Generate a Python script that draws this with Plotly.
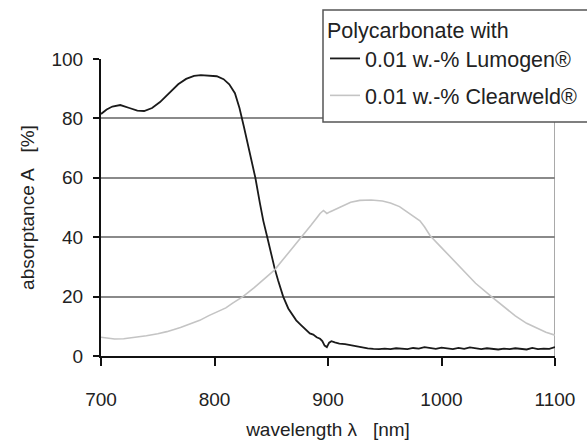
import plotly.graph_objects as go

# Data
lumogen_wl = [700, 705, 710, 717, 725, 732, 738, 745, 752, 760, 768, 775, 782, 788, 795, 802, 808, 813,
              818, 822, 826, 830, 833, 836, 840, 843, 846.5, 850, 853, 856, 860.5, 865, 869, 872, 876,
              880, 884, 887, 890, 893, 895, 897, 899, 901, 903, 906, 910, 915, 920, 925, 930, 935, 940,
              945, 950, 955, 960, 965, 970, 975, 980, 985, 990, 995, 1000, 1005, 1010, 1015, 1020, 1025,
              1030, 1035, 1040, 1045, 1050, 1055, 1060, 1065, 1070, 1075, 1080, 1085, 1090, 1095, 1100]
lumogen_a = [81.5, 83.0, 84.0, 84.5, 83.5, 82.6, 82.5, 83.5, 85.5, 88.5, 91.5, 93.3, 94.3, 94.6, 94.5, 94.2, 93.2, 91.5,
             88.5, 83.5, 77.0, 70.0, 65.5, 60.0, 51.5, 45.5, 40.0, 34.0, 29.5, 25.5, 20.0, 16.0, 13.5, 12.0, 10.5,
             9.0, 7.6, 7.2, 6.3, 5.8, 5.0, 3.5, 3.0, 4.5, 5.0, 4.6, 4.2, 4.0, 3.6, 3.3, 3.0, 2.6, 2.4,
             2.3, 2.5, 2.3, 2.6, 2.4, 2.3, 2.7, 2.5, 3.0, 2.6, 2.4, 2.8, 2.5, 2.3, 2.7, 2.4, 2.9,
             2.5, 2.3, 2.6, 2.4, 2.2, 2.5, 2.3, 2.6, 2.4, 2.2, 2.7, 2.3, 2.5, 2.4, 3.0]

clearweld_wl = [700, 705, 712, 720, 730, 740, 750, 758, 770, 780, 787, 795, 800, 810, 816, 825, 835, 845, 853,
                860, 868, 877, 885, 890, 893, 896, 899, 902, 907, 913, 920, 928, 938, 948, 955, 963, 970,
                975, 981, 985, 990, 1000, 1010, 1020, 1030, 1044, 1055, 1065, 1075, 1085, 1092, 1100]
clearweld_a = [6.3, 6.0, 5.7, 5.8, 6.2, 6.8, 7.5, 8.2, 9.6, 11.0, 12.0, 13.6, 14.4, 16.2, 17.8, 20.0, 23.0, 26.5, 29.0,
               32.3, 36.0, 40.0, 44.0, 46.5, 48.0, 49.0, 48.0, 48.6, 49.5, 50.8, 51.8, 52.4, 52.5, 52.2, 51.5, 50.3, 48.5,
               47.0, 45.5, 43.5, 40.5, 36.5, 32.5, 28.5, 24.5, 20.0, 16.5, 13.5, 11.0, 9.2, 8.0, 7.0]

x_ticks = [700, 800, 900, 1000, 1100]
y_ticks = [0, 20, 40, 60, 80, 100]

FONT = "Liberation Sans, Arial, sans-serif"
FS = 19
LFS = 21.5
TXT = "#222222"
NB = "\u00a0"

# plot-area geometry in pixels (used to place the legend frame)
L, R, T, B = 101, 555, 59, 356
W, H = 587, 445


def px_x(p):
    return (p - L) / (R - L)


def px_y(p):
    return (B - p) / (B - T)


fig = go.Figure()
fig.add_trace(go.Scatter(x=lumogen_wl, y=lumogen_a, mode="lines",
                         name="0.01 w.-% Lumogen®", legendgroup="a",
                         line=dict(color="#1a1a1a", width=1.8)))
fig.add_trace(go.Scatter(x=clearweld_wl, y=clearweld_a, mode="lines",
                         name="0.01 w.-% Clearweld®", legendgroup="b",
                         line=dict(color="#c4c4c4", width=1.6)))

# right-hand frame line
fig.add_shape(type="line", xref="x", yref="y", x0=1100, x1=1100, y0=0, y1=100,
              line=dict(color="#707070", width=1.2), layer="below")

# legend frame (runs past the right edge of the picture, as in the reference)
fig.add_shape(type="rect", xref="paper", yref="paper",
              x0=px_x(323), x1=px_x(W + 20), y0=px_y(122), y1=px_y(10),
              fillcolor="white", line=dict(color="#555555", width=1.5), layer="above")

fig.update_layout(
    width=W, height=H,
    margin=dict(l=L, r=W - R, t=T, b=H - B, autoexpand=False),
    paper_bgcolor="white", plot_bgcolor="white",
    font=dict(family=FONT, size=FS, color=TXT),
    showlegend=True,
    legend=dict(
        x=px_x(325), y=px_y(10), xanchor="left", yanchor="top",
        bgcolor="rgba(0,0,0,0)", borderwidth=0,
        font=dict(family=FONT, size=LFS, color=TXT),
        title=dict(text="Polycarbonate with", font=dict(family=FONT, size=LFS, color=TXT)),
        traceorder="grouped", tracegroupgap=6,
    ),
    xaxis=dict(
        range=[700, 1100], tickvals=x_ticks, ticktext=[str(v) for v in x_ticks],
        showgrid=False, zeroline=False,
        showline=True, linecolor="#111111", linewidth=2,
        ticks="outside", ticklen=8, tickwidth=2, tickcolor="#111111",
        ticklabelstandoff=17,
        tickfont=dict(family=FONT, size=FS, color=TXT),
        title=dict(text="wavelength λ" + NB * 3 + "[nm]", standoff=14,
                   font=dict(family=FONT, size=FS, color=TXT)),
    ),
    yaxis=dict(
        range=[0, 100], tickvals=y_ticks, ticktext=[str(v) for v in y_ticks],
        showgrid=True, gridcolor="#8a8a8a", gridwidth=1.5, zeroline=False,
        showline=True, linecolor="#111111", linewidth=2,
        ticks="outside", ticklen=6, tickwidth=2, tickcolor="#111111",
        ticklabelstandoff=6,
        tickfont=dict(family=FONT, size=FS, color=TXT),
        title=dict(text="absorptance A" + NB * 3 + "[%]", standoff=12,
                   font=dict(family=FONT, size=FS, color=TXT)),
    ),
)

fig.write_html("out.html")
